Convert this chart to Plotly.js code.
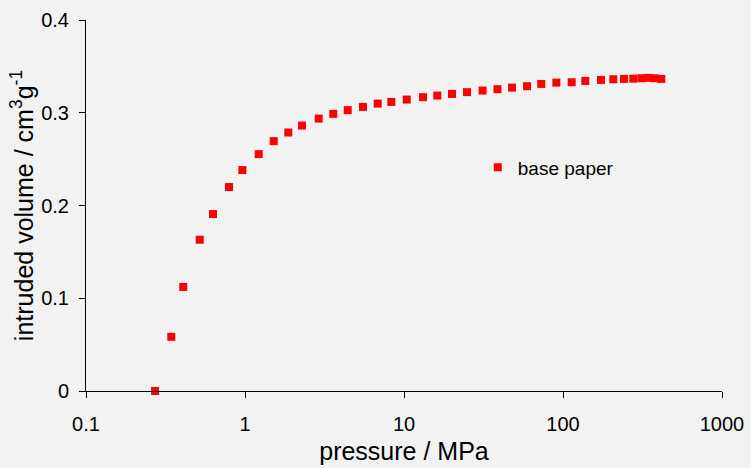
<!DOCTYPE html>
<html>
<head>
<meta charset="utf-8">
<script src="https://cdn.plot.ly/plotly-3.0.1.min.js"></script>
<style>
  html, body { margin: 0; padding: 0; background: #f2f2f2; }
  #chart { width: 751px; height: 468px; }
</style>
</head>
<body>
<div id="chart"></div>
<script>
// Mercury intrusion curve: cumulative intruded volume against applied pressure
const pressureMPa = [
  0.272, 0.344, 0.409, 0.519, 0.629, 0.793, 0.962, 1.22, 1.515, 1.872,
  2.283, 2.908, 3.592, 4.426, 5.523, 6.833, 8.321, 10.40, 13.17, 16.20,
  20.04, 24.9, 31.2, 38.7, 47.8, 59.4, 73.0, 90.8, 113.4, 138.1,
  173.4, 207.2, 241.9, 276.7, 310.8, 344.9, 376.3, 415.0
];
const intrudedVolume = [
  0.000, 0.0584, 0.1122, 0.1631, 0.1908, 0.2199, 0.2382, 0.2554, 0.2694, 0.2787,
  0.2862, 0.2937, 0.2988, 0.3028, 0.3063, 0.3099, 0.3117, 0.3142, 0.3168, 0.3185,
  0.3203, 0.3222, 0.3239, 0.3254, 0.3271, 0.3286, 0.3311, 0.3325, 0.3329, 0.3343,
  0.3354, 0.3361, 0.3365, 0.3368, 0.3372, 0.3376, 0.3372, 0.3365
];
const seriesName = 'base paper';
const xTickVals = [0.1, 1, 10, 100, 1000];
const xTickText = ['0.1', '1', '10', '100', '1000'];
const yTickVals = [0, 0.1, 0.2, 0.3, 0.4];
const yTickText = ['0', '0.1', '0.2', '0.3', '0.4'];

const trace = {
  x: pressureMPa,
  y: intrudedVolume,
  name: seriesName,
  type: 'scatter',
  mode: 'markers',
  marker: { symbol: 'square', size: 8, color: '#ff0000' },
  cliponaxis: false
};

const font = { family: 'Liberation Sans, Arial, sans-serif', color: '#000000' };

const layout = {
  width: 751,
  height: 468,
  margin: { l: 86, r: 29, t: 20, b: 76.5 },
  paper_bgcolor: '#f2f2f2',
  plot_bgcolor: '#f2f2f2',
  font: Object.assign({ size: 20 }, font),
  showlegend: true,
  legend: {
    x: 0.616, y: 0.603, xanchor: 'left', yanchor: 'middle',
    bgcolor: 'rgba(0,0,0,0)',
    font: Object.assign({ size: 19 }, font)
  },
  xaxis: {
    type: 'log',
    range: [-1, 3],
    tickmode: 'array',
    tickvals: xTickVals,
    ticktext: xTickText,
    ticks: 'outside', ticklen: 6, tickwidth: 1, tickcolor: '#000',
    ticklabelstandoff: 9,
    showline: true, linecolor: '#000', linewidth: 1,
    showgrid: false, zeroline: false,
    tickfont: Object.assign({ size: 20 }, font),
    title: { text: 'pressure / MPa', font: Object.assign({ size: 25 }, font), standoff: 8 }
  },
  yaxis: {
    range: [0, 0.4],
    tickmode: 'array',
    tickvals: yTickVals,
    ticktext: yTickText,
    ticks: 'outside', ticklen: 6, tickwidth: 1, tickcolor: '#000',
    ticklabelstandoff: 6,
    showline: true, linecolor: '#000', linewidth: 1,
    showgrid: false, zeroline: false,
    tickfont: Object.assign({ size: 20 }, font),
    title: { text: 'intruded volume / cm<sup>3</sup>g<sup>-1</sup>', font: Object.assign({ size: 25 }, font), standoff: 0 }
  }
};

Plotly.newPlot('chart', [trace], layout, { displayModeBar: false, staticPlot: true });
</script>
</body>
</html>
